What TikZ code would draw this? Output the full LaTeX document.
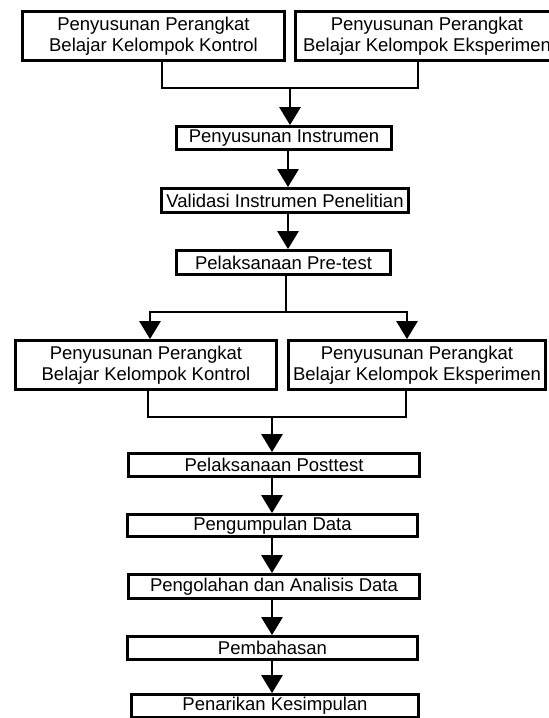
\documentclass[tikz,border=0pt]{standalone}
\usepackage{fontspec}
\setmainfont{Liberation Sans}
\usetikzlibrary{arrows.meta}

\begin{document}
\begin{tikzpicture}[
    x=1pt,y=1pt,
    box/.style={draw,line width=2.8pt,inner sep=0pt,align=center,
                font=\fontsize{18.5}{21}\selectfont},
    link/.style={draw,line width=2.8pt},
    arr/.style={link,-{Triangle[width=21pt,length=18pt]}},
  ]
    \useasboundingbox (0,0) rectangle (549,-718);
    \clip (0,0) rectangle (549,-718);

    \node[box,minimum width=262,minimum height=49] (kon1) at (153.5,-36)
      {Penyusunan Perangkat\\Belajar Kelompok Kontrol};
    \node[box,minimum width=263,minimum height=49] (eks1) at (427,-36)
      {Penyusunan Perangkat\\Belajar Kelompok Eksperimen};
    \node[box,minimum width=215,minimum height=23] (instr) at (284,-138)
      {Penyusunan Instrumen};
    \node[box,minimum width=247,minimum height=24] (valid) at (285,-200.5)
      {Validasi Instrumen Penelitian};
    \node[box,minimum width=214,minimum height=24] (pre) at (283.5,-262.5)
      {Pelaksanaan Pre-test};
    \node[box,minimum width=261,minimum height=49] (kon2) at (146,-365)
      {Penyusunan Perangkat\\Belajar Kelompok Kontrol};
    \node[box,minimum width=257,minimum height=49] (eks2) at (417,-365)
      {Penyusunan Perangkat\\Belajar Kelompok Eksperimen};
    \node[box,minimum width=291,minimum height=23] (post) at (274,-465)
      {Pelaksanaan Posttest};
    \node[box,minimum width=290,minimum height=22] (kumpul) at (272.5,-525.5)
      {Pengumpulan Data};
    \node[box,minimum width=291,minimum height=24] (olah) at (274,-586.5)
      {Pengolahan dan Analisis Data};
    \node[box,minimum width=290,minimum height=23] (bahas) at (272.5,-648)
      {Pembahasan};
    \node[box,minimum width=287,minimum height=23] (tarik) at (275,-706)
      {Penarikan Kesimpulan};

    % spines
    \coordinate (up) at (288,0);
    \coordinate (lo) at (272,0);
    \coordinate (join1) at (290,-88);
    \coordinate (split) at (286,-312);
    \coordinate (join2) at (272,-417);

    \draw[link] ([xshift=8.5pt]kon1.south) |- (join1) -| ([xshift=-9pt]eks1.south);
    \draw[arr] (join1) -- (join1 |- instr.north);
    \draw[arr] (instr.south -| up) -- (valid.north -| up);
    \draw[arr] (valid.south -| up) -- (pre.north -| up);

    \draw[link] (pre.south -| split) -- (split);
    \draw[arr] (split) -| ([xshift=4pt]kon2.north);
    \draw[arr] (split) -| ([xshift=-10pt]eks2.north);

    \draw[link] ([xshift=2pt]kon2.south) |- (join2) -| ([xshift=-11pt]eks2.south);
    \draw[arr] (join2) -- (join2 |- post.north);
    \draw[arr] (post.south -| lo) -- (kumpul.north -| lo);
    \draw[arr] (kumpul.south -| lo) -- (olah.north -| lo);
    \draw[arr] (olah.south -| lo) -- (bahas.north -| lo);
    \draw[arr] (bahas.south -| lo) -- (tarik.north -| lo);

  \end{tikzpicture}
\end{document}
